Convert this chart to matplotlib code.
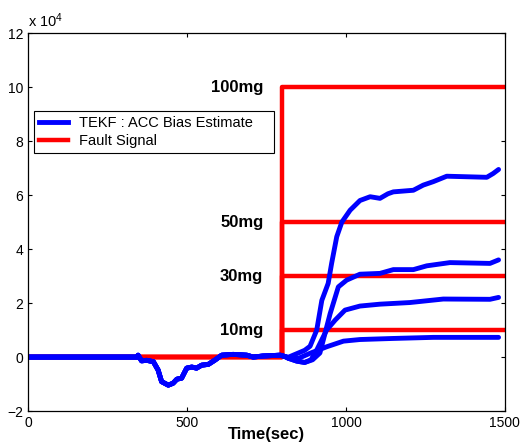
"""Fault detection plot: TEKF accelerometer bias estimates vs. injected fault signals."""
import numpy as np
import matplotlib
matplotlib.use("Agg")
import matplotlib.pyplot as plt

# ── Data (values in units of 1e4) ─────────────────────────────────────────────
FAULT_TIME   = 800
FAULT_LEVELS = [1, 3, 5, 10]
FAULT_LABELS = ["10mg", "30mg", "50mg", "100mg"]

# shared part of the estimate before the fault is injected
t_pre = [0, 100, 200, 300, 343, 346, 357, 373, 394, 409, 420, 441, 456, 468, 483,
         499, 515, 530, 546, 567, 588, 609, 645, 688, 708, 739, 793, 808]
v_pre = [0, 0, 0, 0, 0, 0.07, -0.14, -0.12, -0.17, -0.48, -0.91, -1.04, -0.97, -0.82, -0.78,
         -0.41, -0.37, -0.41, -0.30, -0.27, -0.11, 0.07, 0.10, 0.07, 0.0, 0.04, 0.07, 0.02]

t_10 = [820, 850, 887, 939, 992, 1044, 1149, 1275, 1480]
v_10 = [-0.05, -0.05, 0.14, 0.38, 0.59, 0.65, 0.69, 0.73, 0.73]

t_30 = [820, 845, 870, 890, 908, 939, 966, 997, 1044, 1107, 1201, 1306, 1453, 1480]
v_30 = [-0.05, -0.15, -0.2, -0.1, 0.26, 1.0, 1.37, 1.74, 1.89, 1.96, 2.02, 2.15, 2.14, 2.21]

t_50 = [820, 845, 870, 895, 918, 950, 976, 1002, 1044, 1107, 1149, 1212, 1254, 1327, 1453, 1480]
v_50 = [-0.05, -0.15, -0.2, -0.1, 0.15, 1.6, 2.6, 2.85, 3.07, 3.1, 3.24, 3.24, 3.38, 3.5, 3.47, 3.6]

t_100 = [820, 850, 870, 887, 908, 924, 944, 955, 971, 987, 1013, 1044, 1076, 1107, 1132,
         1149, 1212, 1243, 1275, 1317, 1380, 1443, 1463, 1480]
v_100 = [0.0, 0.15, 0.25, 0.4, 1.0, 2.1, 2.73, 3.48, 4.46, 5.0, 5.44, 5.8, 5.94, 5.88, 6.05,
         6.12, 6.18, 6.37, 6.5, 6.7, 6.68, 6.66, 6.8, 6.95]

ESTIMATES = [(t_10, v_10), (t_30, v_30), (t_50, v_50), (t_100, v_100)]

# ── Style ─────────────────────────────────────────────────────────────────────
plt.rcParams["font.family"] = ["Liberation Sans", "DejaVu Sans"]
plt.rcParams["mathtext.default"] = "regular"
BLUE = "#0000ff"
RED  = "#ff0000"

fig = plt.figure(figsize=(5.2, 4.42), dpi=100)
ax = fig.add_axes([0.054, 0.070, 0.917, 0.855])

# ── Fault signals ─────────────────────────────────────────────────────────────
for lvl in FAULT_LEVELS:
    ax.plot([0, FAULT_TIME, FAULT_TIME, 1500], [0, 0, lvl, lvl],
            color=RED, linewidth=3.2, solid_capstyle="butt")

# ── Bias estimates ────────────────────────────────────────────────────────────
for t_post, v_post in ESTIMATES:
    ax.plot(t_pre + t_post, v_pre + v_post, color=BLUE, linewidth=3.5,
            solid_joinstyle="round", solid_capstyle="round")

for lvl, lab in zip(FAULT_LEVELS, FAULT_LABELS):
    ax.text(740, lvl, lab, ha="right", va="center", fontsize=12, fontweight="bold")

# ── Axes ──────────────────────────────────────────────────────────────────────
ax.set_xlim(0, 1500)
ax.set_ylim(-2, 12)
ax.set_xticks([0, 500, 1000, 1500])
ax.set_yticks(np.arange(-2, 13, 2))
ax.tick_params(direction="in", top=True, right=True, labelsize=10, length=3, width=0.8)
for sp in ax.spines.values():
    sp.set_linewidth(0.9)
ax.text(0, 1.008, r"x 10$^{4}$", transform=ax.transAxes, fontsize=10.5, va="bottom", ha="left")
ax.set_xlabel("Time(sec)", fontsize=12, fontweight="bold", labelpad=-2)

h_blue, = ax.plot([], [], color=BLUE, linewidth=3.5)
h_red,  = ax.plot([], [], color=RED, linewidth=3.2)
# trailing spaces widen the box like the MATLAB legend
leg = ax.legend([h_blue, h_red], ["TEKF : ACC Bias Estimate    ", "Fault Signal"],
                loc="upper left", bbox_to_anchor=(0.0126, 0.794), borderaxespad=0,
                fancybox=False, framealpha=1, edgecolor="black", fontsize=10.5,
                handlelength=2.0, borderpad=0.35, labelspacing=0.25, handletextpad=0.7)
leg.get_frame().set_linewidth(0.8)

fig.savefig("out.png", dpi=100, facecolor="white")
